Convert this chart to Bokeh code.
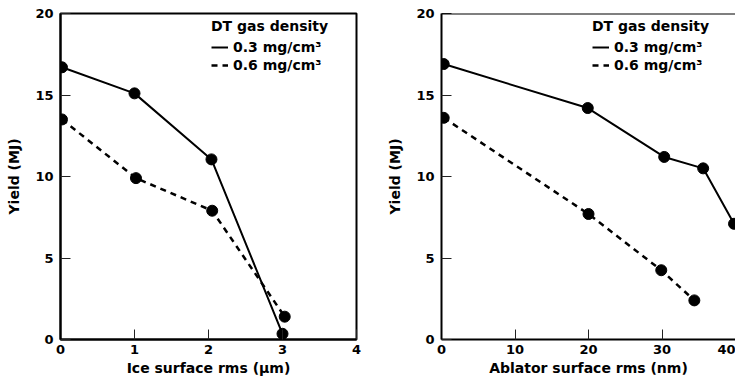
from bokeh.plotting import figure
from bokeh.layouts import row
from bokeh.models import Legend, LegendItem, FixedTicker, Range1d, Span
from bokeh.embed import file_html
from bokeh.resources import INLINE

# ---- data ----
# Left panel: yield vs ice surface rms (um)
ice_rms_03 = [0.02, 1.0, 2.04, 3.0]
ice_yield_03 = [16.7, 15.1, 11.05, 0.35]
ice_rms_06 = [0.02, 1.02, 2.05, 3.03]
ice_yield_06 = [13.5, 9.9, 7.9, 1.4]

# Right panel: yield vs ablator surface rms (nm)
abl_rms_03 = [0.3, 19.9, 30.3, 35.6, 39.8]
abl_yield_03 = [16.9, 14.2, 11.2, 10.5, 7.1]
abl_rms_06 = [0.3, 20.0, 29.9, 34.4]
abl_yield_06 = [13.6, 7.7, 4.25, 2.4]

y_ticks = [0, 5, 10, 15, 20]
ice_ticks = [0, 1, 2, 3, 4]
abl_ticks = [0, 10, 20, 30, 40]

legend_title = "DT gas density"
series_labels = ["0.3 mg/cm³", "0.6 mg/cm³"]

FONT = "DejaVu Sans"


def make_panel(xlabel, xr, xticks, x03, y03, x06, y06, width, mbl, mbr, full_outline):
    p = figure(width=width, height=385, x_range=Range1d(*xr), y_range=Range1d(0, 20),
               output_backend="svg", toolbar_location=None,
               min_border_left=mbl, min_border_right=mbr,
               min_border_top=13, min_border_bottom=46,
               background_fill_color="white", border_fill_color="white")
    p.xgrid.visible = False
    p.ygrid.visible = False
    if full_outline:
        p.outline_line_color = "black"
        p.outline_line_width = 2
    else:
        p.outline_line_color = None
        p.add_layout(Span(location=20, dimension="width", line_color="black", line_width=2))

    p.xaxis.ticker = FixedTicker(ticks=xticks)
    p.yaxis.ticker = FixedTicker(ticks=y_ticks)
    p.xaxis.axis_label = xlabel
    p.yaxis.axis_label = "Yield (MJ)"
    for ax in (p.xaxis[0], p.yaxis[0]):
        ax.major_tick_in = 10
        ax.major_tick_out = 0
        ax.major_tick_line_color = "#222222"
        ax.major_tick_line_width = 1
        ax.minor_tick_line_color = None
        ax.axis_line_color = "black"
        ax.axis_line_width = 2
        ax.major_label_text_font = FONT
        ax.major_label_text_font_style = "bold"
        ax.major_label_text_font_size = "13px"
        ax.major_label_text_color = "black"
        ax.axis_label_text_font = FONT
        ax.axis_label_text_font_style = "bold"
        ax.axis_label_text_font_size = "14px"
        ax.axis_label_text_color = "black"
    p.xaxis.major_label_standoff = 5
    p.xaxis.axis_label_standoff = 3
    p.yaxis.major_label_standoff = 7
    p.yaxis.axis_label_standoff = 10

    l1 = p.line(x03, y03, line_color="black", line_width=2)
    p.scatter(x03, y03, size=11, color="black")
    l2 = p.line(x06, y06, line_color="black", line_width=2.5, line_dash="6 5")
    p.scatter(x06, y06, size=11, color="black")

    legend = Legend(items=[LegendItem(label=series_labels[0], renderers=[l1]),
                           LegendItem(label=series_labels[1], renderers=[l2])],
                    title=legend_title, location=(151, 266),
                    border_line_color=None, background_fill_alpha=0,
                    padding=0, margin=0, spacing=2,
                    glyph_width=17, glyph_height=16, label_height=16,
                    label_standoff=5, title_standoff=5,
                    label_text_font=FONT, label_text_font_style="bold",
                    label_text_font_size="14px", label_text_color="black",
                    title_text_font=FONT, title_text_font_style="bold",
                    title_text_font_size="14px", title_text_color="black")
    p.add_layout(legend)
    return p


p1 = make_panel("Ice surface rms (μm)", (0, 4), ice_ticks,
                ice_rms_03, ice_yield_03, ice_rms_06, ice_yield_06,
                370, 60, 14, True)
p2 = make_panel("Ablator surface rms (nm)", (0, 40), abl_ticks,
                abl_rms_03, abl_yield_03, abl_rms_06, abl_yield_06,
                365, 71, 0, False)

layout = row(p1, p2)
open("out.html", "w").write(file_html(layout, INLINE))
